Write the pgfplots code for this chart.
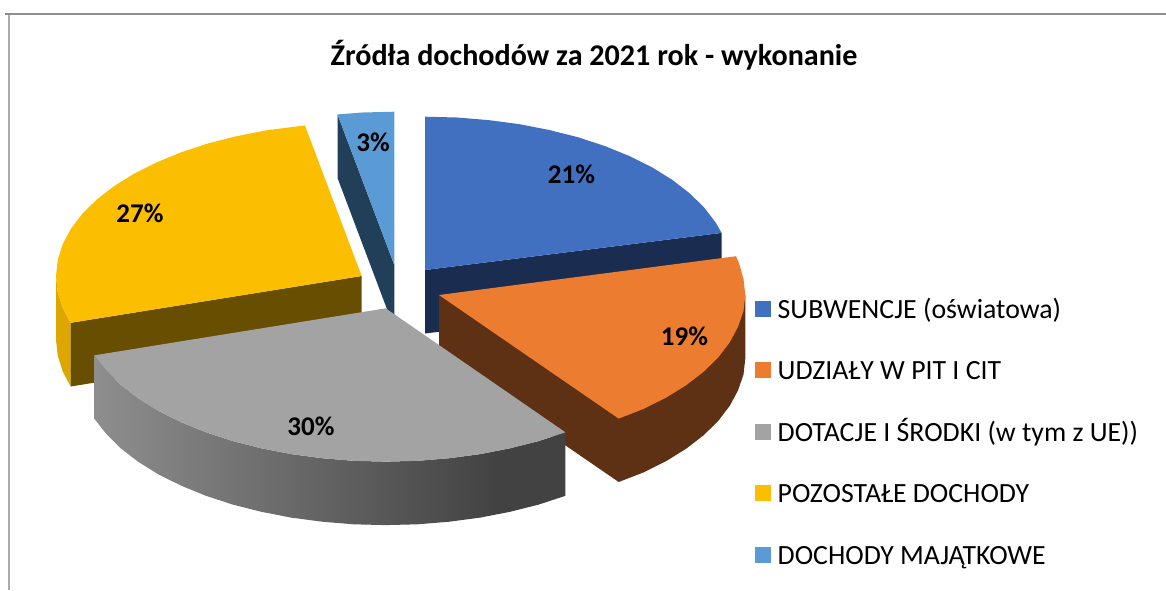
\documentclass[border=0pt]{standalone}
\usepackage{pgfplots}
\pgfplotsset{compat=1.18}
\usepackage{fontspec}
\setmainfont{Carlito}
\definecolor{cBlue}{HTML}{4270C0}
\definecolor{cBlueS}{HTML}{1A2C4F}
\definecolor{cOr}{HTML}{EB7C30}
\definecolor{cOrS}{HTML}{5F3114}
\definecolor{cGr}{HTML}{A3A3A3}
\definecolor{cYe}{HTML}{FBBE00}
\definecolor{cYeS}{HTML}{674E00}
\definecolor{cYeO}{HTML}{DDA600}
\definecolor{cLb}{HTML}{5B9BD5}
\definecolor{cLbS}{HTML}{223F59}
\definecolor{cFr}{HTML}{ABABAB}
\definecolor{cFt}{HTML}{8E8E8E}
\definecolor{gA}{HTML}{8E8E8E}
\definecolor{gB}{HTML}{424242}
\pgfdeclarehorizontalshading{grayside}{100bp}{color(0bp)=(gA); color(25bp)=(gA); color(68bp)=(gB); color(75bp)=(gB); color(100bp)=(gB)}
\begin{document}
\begin{tikzpicture}
\begin{axis}[
  scale only axis, width=1166pt, height=590pt,
  xmin=0, xmax=1166, ymin=0, ymax=590, y dir=reverse,
  hide axis, no markers, clip mode=individual,
  every axis plot/.append style={draw=none, line width=0pt}
]
\path (axis cs:0,0) rectangle (axis cs:1166,590);
% frame
\addplot[fill=cFr] coordinates {(8,14)(10.2,14)(10.2,590)(8,590)};
\addplot[fill=cFt] coordinates {(5,13)(1166,13)(1166,14.8)(5,14.8)};
% small blue
\addplot[fill=cLbS] coordinates {(337.5,114.4)(337.5,177.9)(394.3,328.5)(394.3,265)};
\addplot[fill=cLb] coordinates {(337.5,114.4)(362.3,112.5)(394.3,111.7)(394.3,265)};
% yellow
\addplot[fill=cYeO] coordinates {(56,276)(57.7,292)(62.7,307.9)(70.6,322.8)(70.6,386.5)(62.7,371.4)(57.7,355.5)(56,339.5)};
\addplot[fill=cYeS] coordinates {(70.6,322.8)(361.7,276)(361.7,339.5)(70.6,386.5)};
\addplot[fill=cYe] coordinates {(361.7,276)(70.6,322.8)(62.7,307.9)(57.7,292)(56,276)(57.7,260)(62.7,244.1)(71,228.6)(82.4,213.7)(97,199.3)(114.4,185.9)(134.5,173.4)(157.2,162.1)(182,152)(208.8,143.2)(237.4,136)(267.2,130.2)(304.9,125.4)};
% big blue
\addplot[fill=cBlueS] coordinates {(425,270)(721.6,232.9)(721.6,296.4)(425,333.5)};
\addplot[fill=cBlue] coordinates {(425,270)(425,116.7)(457,117.5)(488.6,120.1)(519.5,124.2)(549.3,130)(577.9,137.2)(604.7,146)(629.5,156.1)(652.2,167.4)(672.3,179.9)(689.7,193.3)(704.3,207.7)(715.7,222.6)(721.6,232.9)};
% orange
\addplot[fill=cOrS] coordinates {(439,295)(439,358.5)(618.7,482)(643.5,472.4)(666.2,461.1)(686.3,448.6)(703.7,435.2)(718.3,420.8)(729.7,405.9)(738,390.4)(743.5,374.5)(745.3,358.5)(745.3,295)};
\addplot[fill=cOr] coordinates {(439,295)(736,256.2)(739,263.1)(743.5,279)(745.3,295)(743.5,311)(738,326.9)(729.7,342.4)(718.3,357.3)(703.7,371.7)(686.3,385.1)(666.2,397.6)(643.5,408.9)(618.7,418.6)};
% gray
\addplot[shading=grayside] coordinates {(565.4,432.3)(538.6,441.1)(510,448.3)(480.2,454.1)(449.3,458.2)(417.7,460.8)(385.7,461.6)(353.7,460.8)(322.1,458.2)(291.2,454.1)(261.4,448.3)(232.8,441.1)(206,432.3)(181.2,422.2)(158.5,410.9)(138.4,398.4)(121,385)(106.4,370.6)(94.4,355.3)(94.4,418.8)(106.4,434.1)(121,448.5)(138.4,461.9)(158.5,474.4)(181.2,485.7)(206,495.8)(232.8,504.6)(261.4,511.8)(291.2,517.6)(322.1,521.7)(353.7,524.3)(385.7,525.1)(417.7,524.3)(449.3,521.7)(480.2,517.6)(510,511.8)(538.6,504.6)(565.4,495.8)};
\addplot[fill=cGr] coordinates {(385.7,308.3)(565.4,432.3)(538.6,441.1)(510,448.3)(480.2,454.1)(449.3,458.2)(417.7,460.8)(385.7,461.6)(353.7,460.8)(322.1,458.2)(291.2,454.1)(261.4,448.3)(232.8,441.1)(206,432.3)(181.2,422.2)(158.5,410.9)(138.4,398.4)(121,385)(106.4,370.6)(94.4,355.3)};
% legend keys
\addplot[fill=cBlue] coordinates {(755,301)(771,301)(771,317)(755,317)};
\addplot[fill=cOr] coordinates {(755,362)(771,362)(771,378)(755,378)};
\addplot[fill=cGr] coordinates {(755,424)(771,424)(771,440)(755,440)};
\addplot[fill=cYe] coordinates {(755,485)(771,485)(771,501)(755,501)};
\addplot[fill=cLb] coordinates {(755,547)(771,547)(771,563)(755,563)};
% legend text
\begin{scope}[every node/.style={anchor=base west, inner sep=0pt, font=\fontsize{27.8}{32}\selectfont}]
\node at (axis cs:777.5,318) {SUBWENCJE (oświatowa)};
\node at (axis cs:777.5,379) {UDZIAŁY W PIT I CIT};
\node at (axis cs:777.5,441) {DOTACJE I ŚRODKI (w tym z UE))};
\node at (axis cs:777.5,502) {POZOSTAŁE DOCHODY};
\node at (axis cs:777.5,564) {DOCHODY MAJĄTKOWE};
\end{scope}
% title and labels
\node[inner sep=0pt, font=\fontsize{30.1}{36}\selectfont\bfseries] at (axis cs:594,55) {Źródła dochodów za 2021 rok - wykonanie};
\begin{scope}[every node/.style={inner sep=0pt, font=\fontsize{27}{32}\selectfont\bfseries}]
\node at (axis cs:571.5,174) {21\%};
\node at (axis cs:684.5,336) {19\%};
\node at (axis cs:311,426.5) {30\%};
\node at (axis cs:140,213.5) {27\%};
\node at (axis cs:373,142.5) {3\%};
\end{scope}
\end{axis}
\end{tikzpicture}
\end{document}
